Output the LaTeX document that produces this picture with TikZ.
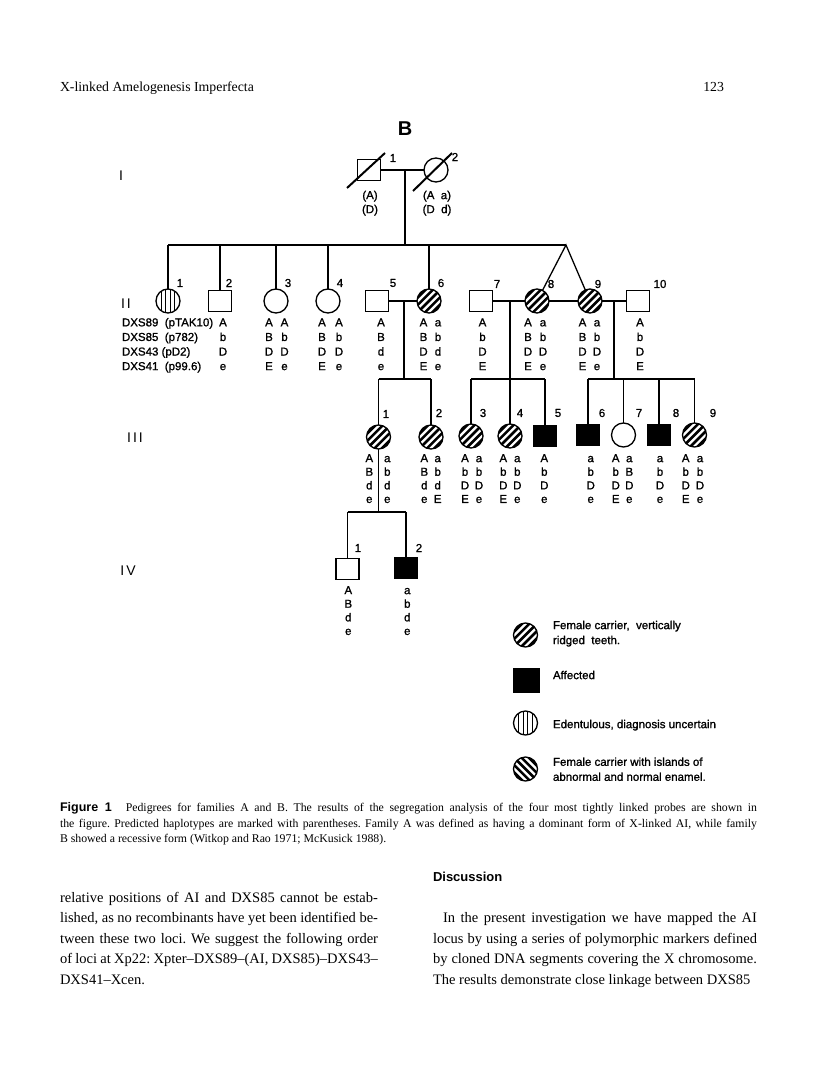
\documentclass[tikz,border=0pt]{standalone}
\usepackage{fontspec}
\setmainfont{Liberation Serif}
\newfontfamily\hv{Liberation Sans}[BoldFont=Liberation Sans,BoldFeatures={FakeBold=1.2}]
\newfontfamily\hvb{Liberation Sans}
\usetikzlibrary{calc}
\frenchspacing
\newcommand\gtf[4]{\vphantom{Ab}#1\\#2\\#3\\#4}
\newcommand\gtt[2]{\vphantom{Ab}#1\\#2}
\begin{document}
\begin{tikzpicture}[x=1pt,y=-1pt,line width=1.3pt,
  every node/.style={inner sep=0pt,outer sep=0pt},
  sq/.style={draw,rectangle,minimum width=23pt,minimum height=21pt},
  ci/.style={draw,circle,minimum size=24pt},
  aff/.style={sq,fill=black},
  hne/.style={ci,path picture={\foreach \k in {-4,...,4}{\draw[line width=2.6pt] ([xshift=\k*7.4pt-20pt,yshift=-20pt]path picture bounding box.center) -- ++(40pt,40pt);}}},
  hnw/.style={ci,path picture={\foreach \k in {-4,...,4}{\draw[line width=2.6pt] ([xshift=\k*7.4pt-20pt,yshift=20pt]path picture bounding box.center) -- ++(40pt,-40pt);}}},
  hv/.style={ci,path picture={\foreach \k in {-6.6,-2.2,2.2,6.6}{\draw[line width=1pt] ([xshift=\k pt,yshift=-15pt]path picture bounding box.center) -- ++(0pt,30pt);}}},
  num/.style={font=\hv\bfseries\fontsize{11.5}{13}\selectfont},
  gt/.style={anchor=north,align=center,font=\hv\bfseries\fontsize{11.5}{14.6}\selectfont},
  gts/.style={anchor=north,align=center,font=\hv\bfseries\fontsize{11.5}{13.6}\selectfont},
  gen/.style={font=\hv\fontsize{14}{16}\selectfont},
  leg/.style={anchor=north west,align=left,font=\hv\bfseries\fontsize{11.5}{15}\selectfont},
  slash/.style={line width=2pt}
]
\fill[white] (0,0) rectangle (816,1081);
\useasboundingbox (0,0) rectangle (816,1081);

% header
\node[anchor=base west,font=\fontsize{13.8}{16}\selectfont] (head) at (60,92) {X-linked Amelogenesis Imperfecta};
\node[anchor=base east,font=\fontsize{13.8}{16}\selectfont] (page) at (724,92) {123};
\node[font=\hvb\bfseries\fontsize{20}{22}\selectfont] (title) at (405,129) {B};

% generation labels
\node[gen] (gI) at (121,176) {I};
\node[gen] (gII) at (126,304) {I\kern2pt I};
\node[gen] (gIII) at (135,438) {I\kern2pt I\kern2pt I};
\node[gen] (gIV) at (128,571) {I\kern2pt V};

% generation I
\node[sq] (I1) at (369,170) {};
\node[ci] (I2) at (436,170) {};
\coordinate (I1a) at (347,188); \coordinate (I1b) at (385,153);
\coordinate (I2a) at (413,191); \coordinate (I2b) at (452,153);
\draw[slash] (I1a) -- (I1b);
\draw[slash] (I2a) -- (I2b);
\node[num] (nI1) at (393,158) {1};
\node[num] (nI2) at (455,157) {2};
\node[gt,font=\hv\bfseries\fontsize{11.5}{14}\selectfont] (gtI1) at (370,190.8) {\gtt{(A)}{(D)}};
\node[gt,font=\hv\bfseries\fontsize{11.5}{14}\selectfont] (gtI2) at (437,190.8) {\gtt{(A\ \ a)}{(D\ \ d)}};

% generation II
\node[hv] (II1) at (168,301) {};
\node[sq] (II2) at (220,301) {};
\node[ci] (II3) at (276,301) {};
\node[ci] (II4) at (328,301) {};
\node[sq] (II5) at (377,301) {};
\node[hne] (II6) at (429,301) {};
\node[sq] (II7) at (481,301) {};
\node[hne] (II8) at (537,301) {};
\node[hne] (II9) at (590,301) {};
\node[sq] (II10) at (638,301) {};
\node[num] (nII1) at (180,283) {1};
\node[num] (nII2) at (229,283) {2};
\node[num] (nII3) at (288,283) {3};
\node[num] (nII4) at (340,283) {4};
\node[num] (nII5) at (393,283) {5};
\node[num] (nII6) at (441,283) {6};
\node[num] (nII7) at (497,284) {7};
\node[num] (nII8) at (551,284) {8};
\node[num] (nII9) at (598,284) {9};
\node[num] (nII10) at (660,284) {10};

\draw (I1) -- (I2);
\coordinate (mI) at (405,170);
\coordinate (sII) at (405,245);
\draw (mI) -- (sII);
\coordinate (sIIl) at (168,245);
\coordinate (tw) at (566,245);
\draw (sIIl) -- (tw);
\foreach \n in {II1,II2,II3,II4,II6} \draw (\n) -- (\n |- sIIl);
\draw (II8) -- (tw) -- (II9);
\draw (II5) -- (II6);
\draw (II7) -- (II8);
\draw (II8) -- (II9);
\draw (II9) -- (II10);

% locus labels and genotypes II
\node[gt,anchor=north west,align=left] (loci) at (122,318) {\vphantom{Ab}DXS89\ \ (pTAK10)\\DXS85\ \ (p782)\\DXS43 (pD2)\\DXS41\ \ (p99.6)};
\node[gt] (gII2) at (223,318) {\gtf{A}{b}{D}{e}};
\node[gt] (gII3a) at (269,318) {\gtf{A}{B}{D}{E}};
\node[gt] (gII3b) at (284.5,318) {\gtf{A}{b}{D}{e}};
\node[gt] (gII4a) at (322,318) {\gtf{A}{B}{D}{E}};
\node[gt] (gII4b) at (339,318) {\gtf{A}{b}{D}{e}};
\node[gt] (gII5) at (381,318) {\gtf{A}{B}{d}{e}};
\node[gt] (gII6a) at (423.5,318) {\gtf{A}{B}{D}{E}};
\node[gt] (gII6b) at (438,318) {\gtf{a}{b}{d}{e}};
\node[gt] (gII7) at (482.5,318) {\gtf{A}{b}{D}{E}};
\node[gt] (gII8a) at (528,318) {\gtf{A}{B}{D}{E}};
\node[gt] (gII8b) at (543,318) {\gtf{a}{b}{D}{e}};
\node[gt] (gII9a) at (582.5,318) {\gtf{A}{B}{D}{E}};
\node[gt] (gII9b) at (597,318) {\gtf{a}{b}{D}{e}};
\node[gt] (gII10) at (640,318) {\gtf{A}{b}{D}{E}};

% generation III
\node[hne] (III1) at (378.5,437) {};
\node[hne] (III2) at (431,437) {};
\node[hne] (III3) at (471,436) {};
\node[hne] (III4) at (510,436) {};
\node[aff] (III5) at (545,436) {};
\node[aff] (III6) at (588,435) {};
\node[ci] (III7) at (623.5,435) {};
\node[aff] (III8) at (659,435) {};
\node[hne] (III9) at (694.5,435) {};
\node[num] (nIII1) at (386,414) {1};
\node[num] (nIII2) at (439,413) {2};
\node[num] (nIII3) at (483,413) {3};
\node[num] (nIII4) at (520,413) {4};
\node[num] (nIII5) at (558,413) {5};
\node[num] (nIII6) at (602,413) {6};
\node[num] (nIII7) at (639,413) {7};
\node[num] (nIII8) at (676,413) {8};
\node[num] (nIII9) at (713,413) {9};

\coordinate (m56) at (404,301); \coordinate (s56) at (404,379);
\draw (m56) -- (s56);
\draw (III1 |- s56) -- (III2 |- s56);
\foreach \n in {III1,III2} \draw (\n) -- (\n |- s56);
\coordinate (m78) at (510,301); \coordinate (s78) at (510,379);
\draw (m78) -- (s78);
\draw (III3 |- s78) -- (III5 |- s78);
\foreach \n in {III3,III4,III5} \draw (\n) -- (\n |- s78);
\coordinate (m910) at (614,301); \coordinate (s910) at (614,379);
\draw (m910) -- (s910);
\draw (III6 |- s910) -- (III9 |- s910);
\foreach \n in {III6,III7,III8,III9} \draw (\n) -- (\n |- s910);

% genotypes III
\node[gts] (gIII1a) at (369.3,453.8) {\gtf{A}{B}{d}{e}};
\node[gts] (gIII1b) at (387.3,453.8) {\gtf{a}{b}{d}{e}};
\node[gts] (gIII2a) at (424.3,453.8) {\gtf{A}{B}{d}{e}};
\node[gts] (gIII2b) at (437.7,453.8) {\gtf{a}{b}{d}{E}};
\node[gts] (gIII3a) at (465,453.8) {\gtf{A}{b}{D}{E}};
\node[gts] (gIII3b) at (479,453.8) {\gtf{a}{b}{D}{e}};
\node[gts] (gIII4a) at (503.3,453.8) {\gtf{A}{b}{D}{E}};
\node[gts] (gIII4b) at (517.3,453.8) {\gtf{a}{b}{D}{e}};
\node[gts] (gIII5) at (544.3,453.8) {\gtf{A}{b}{D}{e}};
\node[gts] (gIII6) at (590.7,453.8) {\gtf{a}{b}{D}{e}};
\node[gts] (gIII7a) at (615.7,453.8) {\gtf{A}{b}{D}{E}};
\node[gts] (gIII7b) at (629.3,453.8) {\gtf{a}{B}{D}{e}};
\node[gts] (gIII8) at (660,453.8) {\gtf{a}{b}{D}{e}};
\node[gts] (gIII9a) at (685.7,453.8) {\gtf{A}{b}{D}{E}};
\node[gts] (gIII9b) at (700,453.8) {\gtf{a}{b}{D}{e}};

% generation IV
\node[sq] (IV1) at (347.5,569) {};
\node[aff] (IV2) at (406,568) {};
\node[num] (nIV1) at (358,548) {1};
\node[num] (nIV2) at (419,548) {2};
\coordinate (sIV) at (378.5,512);
\draw (III1) -- (sIV);
\draw (IV1 |- sIV) -- (IV2 |- sIV);
\foreach \n in {IV1,IV2} \draw (\n) -- (\n |- sIV);
\node[gts] (gIV1) at (348.3,585.8) {\gtf{A}{B}{d}{e}};
\node[gts] (gIV2) at (407.3,585.8) {\gtf{a}{b}{d}{e}};

% legend
\node[hne] (L1) at (525.5,635) {};
\node[leg] (t1) at (553,620.8) {\vphantom{Ab}Female carrier,\ \ vertically\\ridged\ \ teeth.};
\node[aff,minimum width=25pt,minimum height=23pt] (L2) at (526.5,680.5) {};
\node[leg] (t2) at (553,670.8) {\vphantom{Ab}Affected};
\node[hv] (L3) at (525.5,723) {};
\node[leg] (t3) at (553,719.8) {\vphantom{Ab}Edentulous, diagnosis uncertain};
\node[hnw] (L4) at (525.5,769) {};
\node[leg] (t4) at (553,757.5) {\vphantom{Ab}Female carrier with islands of\\abnormal and normal enamel.};

% caption
\node[anchor=north west,text width=697pt,align=justify,font=\fontsize{11.8}{15.3}\selectfont] (cap) at (60,801) {\strut{\hvb\bfseries\fontsize{12.5}{15}\selectfont Figure 1}\hspace{14pt}Pedigrees for families A and B. The results of the segregation analysis of the four most tightly linked probes are shown in\linebreak the figure. Predicted haplotypes are marked with parentheses. Family A was defined as having a dominant form of X-linked AI, while family\linebreak B showed a recessive form (Witkop and Rao 1971; McKusick 1988).};

% body text
\node[anchor=north west,text width=318pt,align=justify,font=\fontsize{14.5}{20.5}\selectfont] (colL) at (60,888) {\strut relative positions of AI and DXS85 cannot be estab-\linebreak lished, as no recombinants have yet been identified be-\linebreak tween these two loci. We suggest the following order\linebreak of loci at Xp22: Xpter--DXS89--(AI, DXS85)--DXS43--\linebreak DXS41--Xcen.};
\node[anchor=base west,font=\hvb\bfseries\fontsize{13}{15}\selectfont] (disc) at (433,881.5) {Discussion};
\node[anchor=north west,text width=324pt,align=justify,font=\fontsize{14.5}{20.5}\selectfont] (colR) at (433,908.5) {\parfillskip=0pt\strut\hspace*{10pt}In the present investigation we have mapped the AI\linebreak locus by using a series of polymorphic markers defined\linebreak by cloned DNA segments covering the X chromosome.\linebreak The results demonstrate close linkage between DXS85};
\end{tikzpicture}
\end{document}
